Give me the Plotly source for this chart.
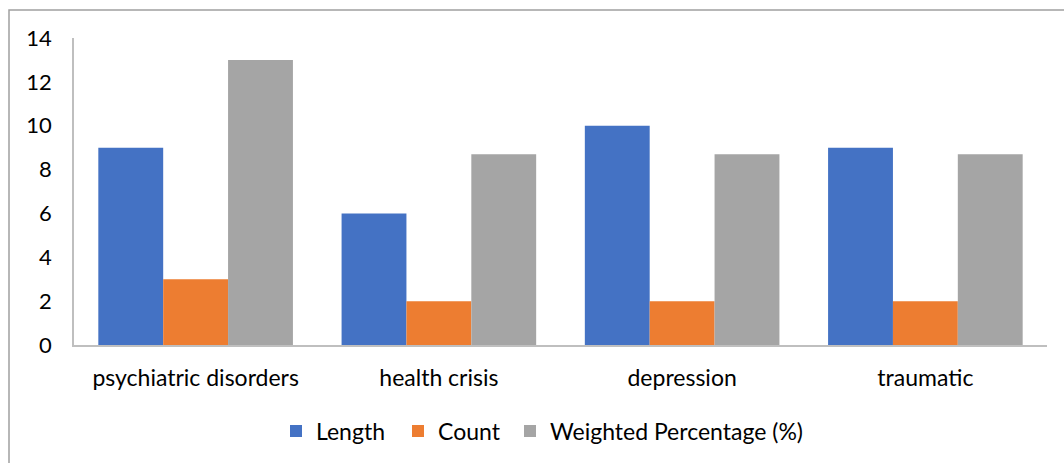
import plotly.graph_objects as go

categories = ["psychiatric disorders", "health crisis", "depression", "traumatic"]
length_vals = [9, 6, 10, 9]
count_vals = [3, 2, 2, 2]
weighted_pct = [13, 8.7, 8.7, 8.7]
y_ticks = [0, 2, 4, 6, 8, 10, 12, 14]

font_family = "Lato, Calibri, Carlito, sans-serif"

W, H = 1064, 463
L, R, T, B = 74, 17, 38, 117
pw, ph = W - L - R, H - T - B


def px_x(p):
    return (p - L) / pw


def px_y(p):
    return (T + ph - p) / ph


fig = go.Figure()
fig.add_trace(go.Bar(name="Length", x=categories, y=length_vals, marker_color="#4472C4",
                     marker_line_width=0, legend="legend"))
fig.add_trace(go.Bar(name="Count", x=categories, y=count_vals, marker_color="#ED7D31",
                     marker_line_width=0, legend="legend2"))
fig.add_trace(go.Bar(name="Weighted Percentage (%)", x=categories, y=weighted_pct, marker_color="#A5A5A5",
                     marker_line_width=0, legend="legend3"))

legend_common = dict(orientation="h", xanchor="left", yanchor="middle", y=px_y(431),
                     font=dict(size=23), itemwidth=30, bgcolor="rgba(0,0,0,0)")

fig.update_layout(
    width=W, height=H,
    margin=dict(l=L, r=R, t=T, b=B),
    paper_bgcolor="white", plot_bgcolor="white",
    barmode="group", bargap=0.2, bargroupgap=0,
    font=dict(family=font_family, size=21, color="#000000"),
    showlegend=True,
    legend=dict(legend_common, x=px_x(276)),
    legend2=dict(legend_common, x=px_x(398)),
    legend3=dict(legend_common, x=px_x(510)),
    xaxis=dict(
        showline=True, linecolor="#BFBFBF", linewidth=1.5,
        showgrid=False, ticks="", ticklabelstandoff=12,
        tickfont=dict(size=23),
    ),
    yaxis=dict(
        range=[0, 14], tickvals=y_ticks,
        showline=True, linecolor="#BFBFBF", linewidth=1.5,
        showgrid=False, zeroline=False, ticks="", ticklabelstandoff=16,
        tickfont=dict(size=22),
    ),
    shapes=[
        dict(type="rect", xref="paper", yref="paper",
             x0=px_x(9), x1=px_x(W + 20),
             y0=px_y(H + 20), y1=px_y(10),
             line=dict(color="#A0A0A0", width=1.5), fillcolor="rgba(0,0,0,0)",
             layer="below"),
    ],
)

fig.write_html("out.html")
